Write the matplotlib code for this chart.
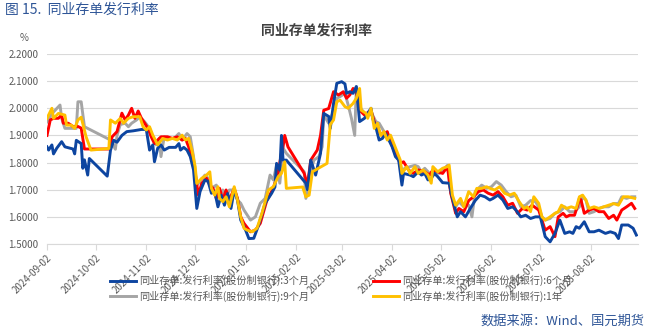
import numpy as np
import pandas as pd
import matplotlib
matplotlib.use('Agg')
import matplotlib.pyplot as plt
import matplotlib.dates as mdates

plt.rcParams['font.family'] = ['Noto Sans CJK SC', 'DejaVu Sans']

start = pd.Timestamp('2024-09-02')

# days since 2024-09-02 and rates (%)
days_3m = [0, 1, 3, 4, 6, 9, 11, 14, 16, 17, 18, 21, 22, 23, 25, 26, 37, 39, 41, 43, 46, 49, 53, 58,
           61, 62, 63, 65, 66, 68, 70, 72, 75, 79, 81, 82, 84, 86, 88, 90, 92, 94, 97, 99, 101, 103,
           105, 107, 109, 111, 113, 115, 117, 119, 122, 124, 127, 130, 134, 138, 140, 141, 143, 144,
           145, 147, 159, 160, 162, 165, 168, 170, 173, 174, 176, 178, 181, 183, 184, 186, 188, 190,
           192, 195, 199, 200, 202, 204, 206, 208, 210, 212, 214, 216, 218, 219, 223, 225, 228, 230,
           232, 234, 236, 238, 240, 243, 247, 249, 252, 254, 257, 260, 263, 266, 269, 272, 274, 277,
           280, 283, 286, 288, 291, 294, 297, 300, 303, 305, 306, 309, 312, 315, 318, 321, 323, 325,
           327, 330, 333, 336, 339, 343, 346, 349, 351, 353, 357, 360, 362]
rate_3m = [1.858, 1.846, 1.865, 1.832, 1.853, 1.877, 1.858, 1.853, 1.850, 1.832, 1.882, 1.870, 1.779,
           1.810, 1.754, 1.815, 1.750, 1.846, 1.882, 1.875, 1.900, 1.914, 1.917, 1.922,
           1.922, 1.883, 1.846, 1.865, 1.803, 1.853, 1.865, 1.846, 1.856, 1.856, 1.870, 1.846, 1.856,
           1.846, 1.822, 1.773, 1.631, 1.693, 1.736, 1.730, 1.687, 1.693,
           1.637, 1.680, 1.643, 1.686, 1.631, 1.699, 1.662, 1.588, 1.551, 1.520, 1.521, 1.570, 1.650,
           1.687, 1.710, 1.797, 1.772, 1.900,
           1.809, 1.809, 1.724, 1.700, 1.809, 1.754, 1.834, 1.981, 1.970, 1.926, 2.018, 2.092, 2.098,
           2.090, 2.055, 2.061, 2.055, 2.080,
           1.951, 1.963, 2.000, 1.963, 1.930, 1.883, 1.889, 1.907, 1.883, 1.858, 1.822, 1.809, 1.717,
           1.760, 1.754, 1.748, 1.766, 1.754,
           1.760, 1.736, 1.742, 1.760, 1.748, 1.726, 1.724, 1.668, 1.600, 1.619, 1.600, 1.631, 1.660,
           1.680, 1.674, 1.662, 1.668, 1.680,
           1.662, 1.631, 1.637, 1.625, 1.600, 1.606, 1.594, 1.600, 1.600, 1.551, 1.527, 1.508, 1.539,
           1.588, 1.539, 1.545, 1.539, 1.564,
           1.558, 1.582, 1.545, 1.545, 1.551, 1.539, 1.545, 1.539, 1.520, 1.570, 1.570, 1.558, 1.533]

days_6m = [0, 2, 4, 7, 9, 10, 13, 16, 19, 21, 23, 38, 40, 43, 46, 48, 50, 52, 54, 56, 58, 60, 62, 64,
           66, 68, 70, 74, 77, 80, 83, 85, 87, 89, 91, 93, 95, 98, 100, 102, 104, 106, 108, 110, 112,
           115, 117, 119, 121, 125, 128, 131, 135, 139, 142, 144, 145, 146, 148, 158, 160, 162, 166,
           168, 170, 173, 176, 179, 182, 184, 186, 188, 190, 192, 195, 199, 201, 204, 206, 209, 211,
           213, 215, 217, 219, 222, 225, 228, 232, 235, 237, 240, 243, 246, 248, 251, 253, 256, 259,
           262, 265, 268, 271, 274, 277, 280, 283, 286, 289, 292, 295, 298, 302, 304, 306, 309, 312,
           314, 317, 319, 321, 324, 326, 327, 328, 330, 333, 336, 339, 342, 345, 348, 350, 353, 356,
           359, 361]
rate_6m = [1.900, 1.957, 1.963, 1.963, 1.975, 1.945, 1.945, 1.933, 1.933, 1.927, 1.850, 1.850, 1.895,
           1.914, 1.982, 1.957, 1.975, 2.000, 1.963, 1.990, 1.963, 1.945, 1.926, 1.895,
           1.870, 1.883, 1.895, 1.895, 1.889, 1.895, 1.883, 1.889, 1.858, 1.809, 1.760, 1.680, 1.723,
           1.742, 1.717, 1.705, 1.668, 1.705, 1.662, 1.699, 1.662,
           1.705, 1.668, 1.600, 1.576, 1.545, 1.551, 1.576, 1.660, 1.705, 1.766, 1.834, 1.858, 1.900,
           1.858, 1.760, 1.717, 1.809, 1.846,
           1.900, 1.993, 1.999, 2.061, 2.049, 2.061, 2.037, 2.049, 2.073, 2.061, 1.993, 1.975, 1.993,
           1.951, 1.914, 1.900, 1.914, 1.877,
           1.846, 1.822, 1.797, 1.803, 1.773, 1.760, 1.773, 1.766, 1.754, 1.773, 1.766, 1.760, 1.785,
           1.687, 1.613, 1.631, 1.619, 1.660,
           1.674, 1.693, 1.699, 1.687, 1.680, 1.693, 1.674, 1.643, 1.650, 1.613, 1.631, 1.625, 1.643,
           1.625, 1.588, 1.551, 1.564, 1.527,
           1.600, 1.613, 1.600, 1.606, 1.606, 1.643, 1.668, 1.662, 1.613, 1.625, 1.631, 1.619, 1.619,
           1.594, 1.606, 1.588, 1.625, 1.637,
           1.650, 1.631]

days_9m = [0, 3, 8, 9, 11, 18, 19, 21, 23, 39, 42, 43, 45, 48, 50, 52, 55, 57, 60, 63, 65, 67, 69, 70,
           72, 75, 78, 81, 83, 86, 88, 90, 92, 94, 97, 99, 101, 104, 106, 108, 110, 112, 115, 117,
           119, 121, 125, 128, 131, 134, 137, 139, 141, 143, 145, 147, 158, 159, 161, 164, 167, 169,
           170, 173, 176, 178, 180, 183, 185, 187, 189, 190, 192, 195, 198, 200, 202, 204, 207, 210,
           212, 214, 216, 218, 220, 223, 226, 228, 230, 232, 235, 238, 241, 246, 248, 251, 253, 256,
           259, 261, 263, 267, 270, 273, 276, 279, 282, 285, 288, 291, 294, 297, 300, 302, 304, 306,
           309, 312, 315, 318, 321, 324, 327, 329, 331, 333, 336, 339, 342, 345, 348, 351, 353, 356,
           359, 361]
rate_9m = [1.950, 1.980, 2.012, 1.963, 1.926, 1.926, 2.024, 2.024, 1.932, 1.883, 1.849, 1.900, 1.940,
           1.945, 1.932, 1.945, 1.957, 1.969, 1.950, 1.926, 1.889, 1.865, 1.889, 1.822,
           1.895, 1.889, 1.889, 1.907, 1.883, 1.907, 1.895, 1.822, 1.717, 1.730, 1.754, 1.742, 1.705,
           1.717, 1.674, 1.699, 1.674, 1.699, 1.699, 1.662,
           1.650, 1.625, 1.588, 1.600, 1.650, 1.668, 1.754, 1.736, 1.790, 1.724, 1.853, 1.834, 1.766,
           1.668, 1.754, 1.809, 1.822, 1.858,
           1.975, 1.945, 1.990, 2.037, 2.043, 2.055, 2.012, 1.963, 1.900, 2.080, 2.006, 1.981, 1.981,
           1.975, 1.951, 1.945, 1.914, 1.900,
           1.877, 1.846, 1.809, 1.773, 1.779, 1.785, 1.790, 1.785, 1.766, 1.779, 1.760, 1.766, 1.760,
           1.790, 1.687, 1.637, 1.656, 1.637,
           1.643, 1.600, 1.693, 1.717, 1.705, 1.711, 1.730, 1.717, 1.693, 1.674, 1.680, 1.637, 1.643,
           1.660, 1.656, 1.637, 1.600, 1.588,
           1.594, 1.613, 1.619, 1.637, 1.619, 1.619, 1.637, 1.674, 1.662, 1.613, 1.619, 1.631, 1.637,
           1.637, 1.649, 1.649, 1.674, 1.668,
           1.674, 1.674]

days_1y = [0, 3, 4, 7, 11, 12, 15, 17, 19, 21, 24, 27, 38, 39, 42, 45, 47, 50, 53, 57, 59, 61, 63, 65,
           68, 71, 74, 77, 80, 83, 85, 87, 89, 91, 92, 95, 98, 100, 101, 103, 105, 106, 108, 110, 112,
           115, 117, 119, 121, 123, 126, 129, 132, 136, 139, 142, 144, 146, 147, 157, 159, 161, 163,
           167, 172, 174, 176, 178, 180, 183, 185, 188, 190, 192, 193, 196, 197, 199, 201, 203, 205,
           207, 209, 211, 213, 215, 217, 218, 221, 223, 226, 228, 231, 234, 236, 237, 240, 243, 246,
           247, 249, 251, 254, 256, 259, 262, 264, 267, 270, 272, 275, 278, 281, 284, 287, 290, 293,
           295, 297, 299, 302, 304, 306, 309, 312, 314, 316, 319, 322, 325, 327, 329, 331, 333, 336,
           339, 342, 345, 348, 351, 354, 357, 361]
rate_1y = [1.963, 2.000, 1.963, 1.981, 1.975, 1.938, 1.938, 1.926, 1.957, 1.967, 1.895, 1.846, 1.852,
           1.957, 1.945, 1.963, 1.945, 1.963, 1.969, 1.969, 1.932, 1.920, 1.932, 1.901,
           1.865, 1.889, 1.883, 1.889, 1.883, 1.901, 1.883, 1.889, 1.846, 1.785, 1.723, 1.742, 1.754,
           1.766, 1.705, 1.680, 1.711, 1.668, 1.656, 1.674, 1.637,
           1.711, 1.662, 1.600, 1.558, 1.551, 1.545, 1.558, 1.613, 1.699, 1.711, 1.748, 1.760, 1.803,
           1.705, 1.710, 1.674, 1.680, 1.766,
           1.780, 1.797, 1.940, 1.957, 2.024, 2.030, 2.006, 2.000, 2.018, 2.037, 2.073, 1.993, 1.981,
           1.963, 2.000, 1.926, 1.945, 1.900,
           1.914, 1.883, 1.901, 1.870, 1.840, 1.809, 1.760, 1.785, 1.760, 1.785, 1.760, 1.773, 1.754,
           1.724, 1.785, 1.766, 1.779, 1.785,
           1.791, 1.680, 1.643, 1.668, 1.637, 1.693, 1.674, 1.705, 1.705, 1.711, 1.705, 1.699, 1.711,
           1.687, 1.680, 1.687, 1.656, 1.631,
           1.637, 1.619, 1.674, 1.650, 1.600, 1.588, 1.600, 1.613, 1.619, 1.643, 1.631, 1.637, 1.631,
           1.674, 1.680, 1.662, 1.631, 1.637,
           1.631, 1.637, 1.643, 1.649, 1.643, 1.674, 1.674, 1.668]

labels = ['同业存单:发行利率(股份制银行):3个月', '同业存单:发行利率(股份制银行):6个月',
          '同业存单:发行利率(股份制银行):9个月', '同业存单:发行利率(股份制银行):1年']
colors = ['#0D45A0', '#FF0000', '#A5A5A5', '#FFC000']


def to_dates(days):
    return start + pd.to_timedelta(np.array(days), unit='D')


fig = plt.figure(figsize=(6.52, 3.30), dpi=100)
ax = fig.add_axes([47 / 652, 1 - 244 / 330, 591 / 652, 190 / 330])

series = [(days_3m, rate_3m), (days_6m, rate_6m), (days_9m, rate_9m), (days_1y, rate_1y)]
# draw order: 9m and 6m under, then 3m, 1y on top
order = [2, 1, 0, 3]
lines = {}
for z, i in enumerate(order):
    d, r = series[i]
    ln, = ax.plot(to_dates(d), r, color=colors[i], lw=2.1, label=labels[i],
                  solid_joinstyle='round', zorder=3 + z)
    lines[i] = ln

ax.set_ylim(1.5, 2.2)
ax.set_yticks(np.arange(1.5, 2.21, 0.1))
ax.set_yticklabels(['%.4f' % v for v in np.arange(1.5, 2.21, 0.1)])
ax.set_xlim(start, start + pd.Timedelta(days=363))
ax.xaxis.set_major_locator(mdates.MonthLocator(bymonthday=2))
ax.xaxis.set_major_formatter(mdates.DateFormatter('%Y-%m-%d'))
for lab in ax.get_xticklabels():
    lab.set_rotation(45)
    lab.set_ha('right')
    lab.set_rotation_mode('anchor')

ax.grid(axis='y', color='#D9D9D9', lw=0.8)
ax.set_axisbelow(True)
for s in ['top', 'right', 'left']:
    ax.spines[s].set_visible(False)
ax.spines['bottom'].set_color('#D9D9D9')
ax.tick_params(axis='y', length=0, labelsize=7, labelcolor='#595959', pad=6)
ax.tick_params(axis='x', length=4, color='#D9D9D9', labelsize=7, labelcolor='#595959', pad=2)

fig.text(20 / 652, 1 - 38 / 330, '%', fontsize=7, color='#595959', ha='left', va='center')
fig.text(5 / 652, 1 - 10 / 330, '图 15.  同业存单发行利率', fontsize=10, color='#2E5597', ha='left', va='center')
fig.text(316 / 652, 1 - 31 / 330, '同业存单发行利率', fontsize=10, fontweight='bold', color='#404040',
         ha='center', va='center')
fig.text(645 / 652, 1 - 321 / 330, '数据来源：Wind、国元期货', fontsize=9.5, color='#2E5597',
         ha='right', va='center')

# legend fills column-wise: 3m, 9m in first column, 6m, 1y in second
leg_idx = [0, 2, 1, 3]
fig.legend([lines[i] for i in leg_idx], [labels[i] for i in leg_idx], ncol=2, loc='center',
           bbox_to_anchor=(341 / 652, 1 - 288.5 / 330), frameon=False, fontsize=7.3,
           labelcolor='#595959', handlelength=2.6, columnspacing=6.3, handletextpad=0.3,
           labelspacing=0.45)

fig.savefig('out.png', dpi=100)
